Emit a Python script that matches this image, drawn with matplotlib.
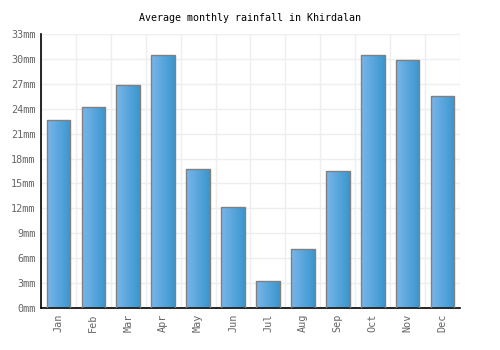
import matplotlib
matplotlib.use("Agg")
import matplotlib.pyplot as plt
import numpy as np
from matplotlib.colors import LinearSegmentedColormap

months = ["Jan", "Feb", "Mar", "Apr", "May", "Jun", "Jul", "Aug", "Sep", "Oct", "Nov", "Dec"]
rainfall = [22.6, 24.2, 26.8, 30.5, 16.7, 12.2, 3.3, 7.1, 16.5, 30.5, 29.9, 25.5]
yticks = list(range(0, 34, 3))
ytick_labels = [f"{v}mm" for v in yticks]
title = "Average monthly rainfall in Khirdalan"

plt.rcParams['font.family'] = ['DejaVu Sans Mono']

fig = plt.figure(figsize=(5, 3.5), dpi=100)
ax = fig.add_axes([0.082, 0.12, 0.838, 0.783])

x = np.arange(len(months))
bars = ax.bar(x, rainfall, width=0.68, facecolor='none', edgecolor='#808080', linewidth=1.0, zorder=3)

cmap = LinearSegmentedColormap.from_list("g", ["#78b6ea", "#3a96ce"])
grad = np.linspace(0, 1, 64).reshape(1, -1)
for b in bars:
    x0, y0 = b.get_x(), b.get_y()
    w, h = b.get_width(), b.get_height()
    im = ax.imshow(grad, extent=[x0, x0 + w, y0, y0 + h], aspect='auto', cmap=cmap, zorder=2, interpolation='bilinear')
    im.set_clip_path(b)

ax.set_xlim(-0.5, len(months) - 0.5)
ax.set_ylim(0, 33)
ax.set_yticks(yticks)
ax.set_yticklabels(ytick_labels)
ax.set_xticks(x)
ax.set_xticklabels(months, rotation=90)
ax.set_xticks(np.arange(-0.5, len(months), 1), minor=True)
ax.grid(True, which='minor', axis='x', color='#eeeeee', linewidth=1, zorder=0)
ax.grid(True, which='major', axis='y', color='#eeeeee', linewidth=1, zorder=0)
ax.tick_params(axis='both', which='both', length=0, labelsize=7.3, colors='#666666', pad=4)
for s in ['top', 'right']:
    ax.spines[s].set_visible(False)
for s in ['left', 'bottom']:
    ax.spines[s].set_color('black')
    ax.spines[s].set_linewidth(1.2)
ax.set_title(title, fontsize=7.2, color='black', pad=9)

fig.savefig("out.png", dpi=100)
